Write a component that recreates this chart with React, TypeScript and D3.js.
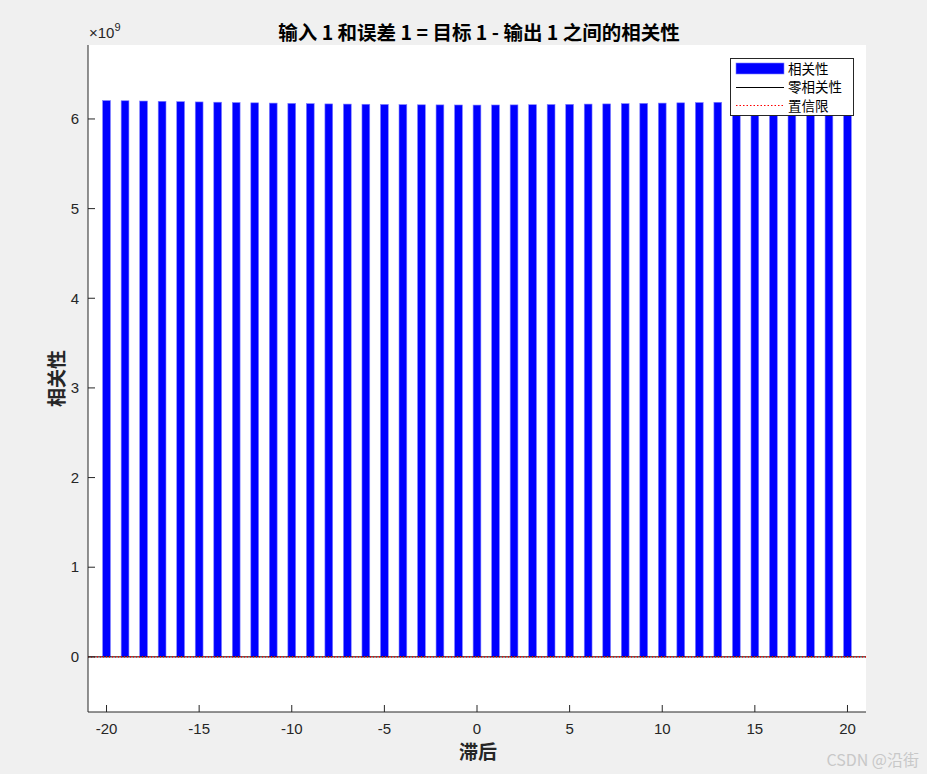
import React from "react";
import * as d3 from "d3";

const lags: number[] = d3.range(-20, 21);
const corrValues: number[] = [
  6.205, 6.203, 6.2, 6.197, 6.193, 6.19, 6.187, 6.183, 6.18, 6.177,
  6.174, 6.171, 6.168, 6.166, 6.164, 6.162, 6.16, 6.158, 6.157, 6.156,
  6.155, 6.156, 6.157, 6.159, 6.161, 6.163, 6.166, 6.168, 6.171, 6.174,
  6.177, 6.18, 6.183, 6.186, 6.189, 6.192, 6.195, 6.198, 6.201, 6.203, 6.205,
];
const confLimits: number[] = [0.004, -0.004];
const xTicks: number[] = [-20, -15, -10, -5, 0, 5, 10, 15, 20];
const yTicks: number[] = [0, 1, 2, 3, 4, 5, 6];
const legendLabels: string[] = ["相关性", "零相关性", "置信限"];

const W = 927, H = 774;
const L = 88, R = 866, T = 45, B = 712;
const CJK = "'Noto Sans CJK SC', 'Noto Sans', Arial, sans-serif";
const LAT = "'Liberation Sans', Arial, 'Noto Sans CJK SC', sans-serif";

export default function App() {
  const x = d3.scaleLinear().domain([-21, 21]).range([L, R]);
  const y = d3.scaleLinear().domain([-0.615, 6.825]).range([B, T]);
  const bw = (x(1) - x(0)) * 0.42;
  const ax = "#262626";
  const legendY = [69, 87.5, 106];
  return (
    <div style={{ position: "fixed", left: 0, top: 0 }}>
      <svg width={W} height={H} style={{ display: "block", fontFamily: CJK }}>
        <rect x={0} y={0} width={W} height={H} fill="#f0f0f0" />
        <rect x={L} y={T} width={R - L} height={B - T} fill="#ffffff" />
        {lags.map((l, i) => (
          <rect key={l} x={x(l) - bw / 2} y={y(corrValues[i])} width={bw}
            height={y(0) - y(corrValues[i])} fill="#0000ff" stroke="#7f7fff" strokeWidth={0.6} />
        ))}
        <line x1={L} x2={R} y1={y(0)} y2={y(0)} stroke="#000" strokeWidth={1} />
        {confLimits.map((c, i) => (
          <line key={i} x1={L} x2={R} y1={y(c)} y2={y(c)} stroke="#ff0000" strokeWidth={1} strokeDasharray="1,2" opacity={0.8} />
        ))}
        {/* axes */}
        <line x1={L} x2={L} y1={T} y2={B} stroke={ax} />
        <line x1={L} x2={R} y1={B} y2={B} stroke={ax} />
        {yTicks.map((t) => (
          <g key={t}>
            <line x1={L} x2={L + 7} y1={y(t)} y2={y(t)} stroke={ax} />
            <text x={L - 9} y={y(t)} dy="0.35em" textAnchor="end" fontSize={15} fontFamily={LAT} fill={ax}>{t}</text>
          </g>
        ))}
        {xTicks.map((t) => (
          <g key={t}>
            <line x1={x(t)} x2={x(t)} y1={B} y2={B - 7} stroke={ax} />
            <text x={x(t)} y={729} dy="0.35em" textAnchor="middle" fontSize={15} fontFamily={LAT} fill={ax}>{t}</text>
          </g>
        ))}
        <text x={89} y={38} fontSize={15} fontFamily={LAT} fill={ax}>×10<tspan dy={-7} fontSize={11}>9</tspan></text>
        <text x={479} y={40} textAnchor="middle" fontSize={19.5} fontWeight="bold" fill="#000">输入 1 和误差 1 = 目标 1 - 输出 1 之间的相关性</text>
        <text x={478} y={759} textAnchor="middle" fontSize={19} fontWeight="bold" fill={ax}>滞后</text>
        <text transform={`translate(64,${(T + B) / 2}) rotate(-90)`} textAnchor="middle" fontSize={19} fontWeight="bold" fill={ax}>相关性</text>
        {/* legend */}
        <rect x={730.5} y={58.5} width={123} height={57} fill="#fff" stroke="#262626" strokeWidth={1} />
        <rect x={736} y={63} width={48} height={11} fill="#0000ff" stroke="#7f7fff" strokeWidth={0.6} />
        <line x1={736} x2={784} y1={87.5} y2={87.5} stroke="#000" />
        <line x1={736} x2={784} y1={105.5} y2={105.5} stroke="#ff0000" strokeDasharray="1.5,2" />
        {legendLabels.map((s, i) => (
          <text key={s} x={788} y={legendY[i]} dy="0.35em" fontSize={13.5} fill="#000">{s}</text>
        ))}
        <text x={919} y={766} textAnchor="end" fontSize={16} fill="#c8c8c8">CSDN @沿街</text>
      </svg>
    </div>
  );
}
